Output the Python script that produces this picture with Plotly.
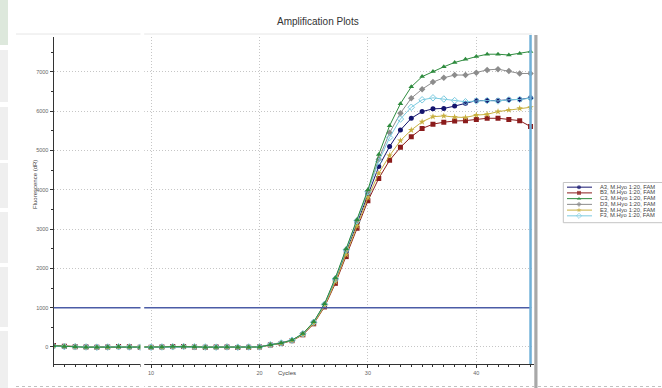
import plotly.graph_objects as go

# ---------------- data ----------------
cycles = list(range(1, 46))
names = ["A3, M.Hyo 1:20, FAM", "B3, M.Hyo 1:20, FAM", "C3, M.Hyo 1:20, FAM",
         "D3, M.Hyo 1:20, FAM", "E3, M.Hyo 1:20, FAM", "F3, M.Hyo 1:20, FAM"]
a3 = [25, 15, 10, 5, 0, 0, 5, 0, -5, -5, 0, 5, 10, 0, -5, 0, 0, -5, 0, 5,
      55, 100, 170, 330, 620, 1070, 1700, 2420, 3160, 3900, 4590, 5100, 5520, 5820, 5990,
      6060, 6070, 6130, 6200, 6270, 6270, 6270, 6290, 6300, 6340]
b3 = [35, 20, 5, 0, -5, 0, 10, 5, -5, -5, 0, 10, 15, 0, -5, 0, 0, -10, -5, 0,
      50, 90, 160, 310, 590, 1020, 1620, 2300, 3020, 3720, 4290, 4750, 5080, 5350, 5560,
      5670, 5720, 5750, 5760, 5790, 5820, 5820, 5790, 5760, 5610]
c3 = [30, 10, 5, -5, -5, 0, 5, 0, -5, -10, 0, 10, 15, 5, -5, -5, 0, -5, -5, 0,
      55, 100, 175, 340, 640, 1100, 1760, 2500, 3240, 4000, 4900, 5630, 6190, 6620, 6880,
      7010, 7130, 7240, 7320, 7390, 7450, 7450, 7430, 7470, 7520]
d3 = [20, 15, 10, 0, -5, -5, 5, 0, -5, -5, 0, 5, 10, 0, -5, 0, 5, -5, 0, 0,
      55, 100, 172, 335, 630, 1090, 1740, 2480, 3220, 3960, 4780, 5450, 5950, 6330, 6560,
      6740, 6850, 6920, 6920, 6980, 7050, 7070, 7020, 6960, 6960]
e3 = [25, 20, 5, 0, 0, -5, 5, 5, 0, -5, -5, 5, 10, 5, 0, -5, 0, 0, -5, 0,
      50, 95, 165, 320, 600, 1040, 1660, 2350, 3080, 3800, 4420, 4870, 5250, 5520, 5730,
      5860, 5880, 5850, 5840, 5900, 5920, 5990, 6030, 6070, 6100]
f3 = [20, 10, 5, 0, -5, 0, 5, 0, -5, -5, 0, 5, 10, 5, 0, -5, 0, -5, 0, 0,
      55, 100, 172, 335, 630, 1085, 1730, 2470, 3210, 3950, 4720, 5330, 5800, 6100, 6290,
      6340, 6310, 6270, 6240, 6260, 6270, 6260, 6290, 6300, 6330]
series = [a3, b3, c3, d3, e3, f3]
threshold = 1000
x_ticks = [10, 20, 30, 40]
y_ticks = [0, 1000, 2000, 3000, 4000, 5000, 6000, 7000]

# ---------------- styles ----------------
colors = ["#14146e", "#8b1c1c", "#2e8b3e", "#8c8c8c", "#c8b040", "#7ccbe0"]
symbols = ["circle", "square", "triangle-up", "diamond", "star", "diamond-open"]
draw_order = [0, 1, 3, 4, 5, 2]
FONT = "Liberation Sans, Arial, sans-serif"
W, H = 662, 388

def px(x):
    return x / W

def py(y):
    return 1 - y / H

fig = go.Figure()
for i in draw_order:
    fig.add_trace(go.Scatter(
        x=cycles, y=series[i], mode="lines+markers", name=names[i],
        line=dict(color=colors[i], width=1),
        marker=dict(symbol=symbols[i], size=5, color=colors[i],
                    line=dict(width=1 if symbols[i].endswith("open") else 0, color=colors[i])),
        showlegend=False))

# custom compact legend drawn from the series lists
for i, nm in enumerate(names):
    fig.add_trace(go.Scatter(
        x=[4, 16, 29], y=[i, i, i], mode="lines+markers", xaxis="x2", yaxis="y2",
        line=dict(color=colors[i], width=1),
        marker=dict(symbol=symbols[i], size=[0, 4, 0], color=colors[i],
                    line=dict(width=1 if symbols[i].endswith("open") else 0, color=colors[i])),
        showlegend=False, hoverinfo="skip"))
fig.add_trace(go.Scatter(
    x=[37] * len(names), y=list(range(len(names))), mode="text", text=names,
    textposition="middle right", textfont=dict(size=5.8, color="#444", family=FONT),
    xaxis="x2", yaxis="y2", showlegend=False, hoverinfo="skip"))

x_dom = [px(53.5), px(534)]
y_dom = [py(364), py(37)]

fig.update_layout(
    width=W, height=H, margin=dict(l=0, r=0, t=0, b=0),
    paper_bgcolor="white", plot_bgcolor="white",
    font=dict(family=FONT, size=5.5, color="#555"),
    xaxis=dict(domain=x_dom, range=[1, 45.32], showline=True, linecolor="#333", linewidth=1,
               tickvals=x_ticks, ticks="outside", ticklen=3, tickcolor="#333",
               tickfont=dict(size=5.5, color="#666"),
               showgrid=True, gridcolor="#c6c6c6", griddash="1px,2px", gridwidth=1, zeroline=False,
               minor=dict(dtick=1, tick0=0, ticks="outside", ticklen=2, tickcolor="#333", showgrid=False)),
    yaxis=dict(domain=y_dom, range=[-433, 7888], showline=True, linecolor="#333", linewidth=1,
               tickvals=y_ticks, ticks="outside", ticklen=3, tickcolor="#333",
               tickfont=dict(size=5.5, color="#666"),
               showgrid=True, gridcolor="#c6c6c6", griddash="1px,2px", gridwidth=1, zeroline=False,
               minor=dict(dtick=500, tick0=0, ticks="outside", ticklen=2, tickcolor="#333", showgrid=False)),
    xaxis2=dict(domain=[px(563), 1], range=[0, 99], visible=False, fixedrange=True),
    yaxis2=dict(domain=[py(223), py(182)], range=[6.25, -0.9], visible=False, fixedrange=True),
    showlegend=False,
)

shapes = [
    # threshold line
    dict(type="line", xref="x", yref="y", x0=1, x1=45, y0=threshold, y1=threshold,
         line=dict(color="#4b5ca6", width=1.5), layer="above"),
    # cyan end-of-run marker
    dict(type="line", xref="x", yref="paper", x0=45, x1=45, y0=py(364), y1=py(35),
         line=dict(color="#6fb0d8", width=2.5), layer="above"),
    # hatched splitter strip
    dict(type="rect", xref="paper", yref="paper", x0=px(534.3), x1=px(537.5), y0=py(388), y1=py(35),
         fillcolor="#a8a8a8", line=dict(width=0), layer="above"),
    # legend box
    dict(type="rect", xref="paper", yref="paper", x0=px(563.3), x1=1.02, y0=py(222.7), y1=py(182.5),
         fillcolor="rgba(0,0,0,0)", line=dict(color="#c4c4c4", width=1), layer="below"),
    # faint page frame lines
    dict(type="line", xref="paper", yref="paper", x0=px(16), x1=px(532), y0=py(34), y1=py(34),
         line=dict(color="#e6e6e6", width=1)),
    dict(type="line", xref="paper", yref="paper", x0=px(16), x1=1, y0=py(386.5), y1=py(386.5),
         line=dict(color="#c0c0c0", width=1, dash="dot")),
    # white stitching gap
    dict(type="rect", xref="paper", yref="paper", x0=px(140.5), x1=px(144.2), y0=0, y1=py(30),
         fillcolor="white", line=dict(width=0), layer="above"),
]
# left page strip
shapes.append(dict(type="rect", xref="paper", yref="paper", x0=0, x1=px(8), y0=py(45), y1=1,
                   fillcolor="#dde8dc", line=dict(width=0)))
for top, bot in [(50, 102), (107, 160), (163, 208), (212, 263), (267, 327), (331, 388)]:
    shapes.append(dict(type="rect", xref="paper", yref="paper", x0=0, x1=px(8), y0=py(bot), y1=py(top),
                       fillcolor="#efefef", line=dict(width=0)))
fig.update_layout(shapes=shapes)

fig.add_annotation(text="Amplification Plots", xref="paper", yref="paper", x=px(318), y=py(14),
                   showarrow=False, font=dict(size=10, color="#333", family=FONT))
fig.add_annotation(text="Fluorescence (dR)", xref="paper", yref="paper", x=px(30), y=py(185),
                   textangle=-90, showarrow=False, font=dict(size=6, color="#444", family=FONT))
fig.add_annotation(text="Cycles", xref="paper", yref="paper", x=px(287), y=py(378),
                   showarrow=False, font=dict(size=6, color="#444", family=FONT))

fig.write_html("out.html")
